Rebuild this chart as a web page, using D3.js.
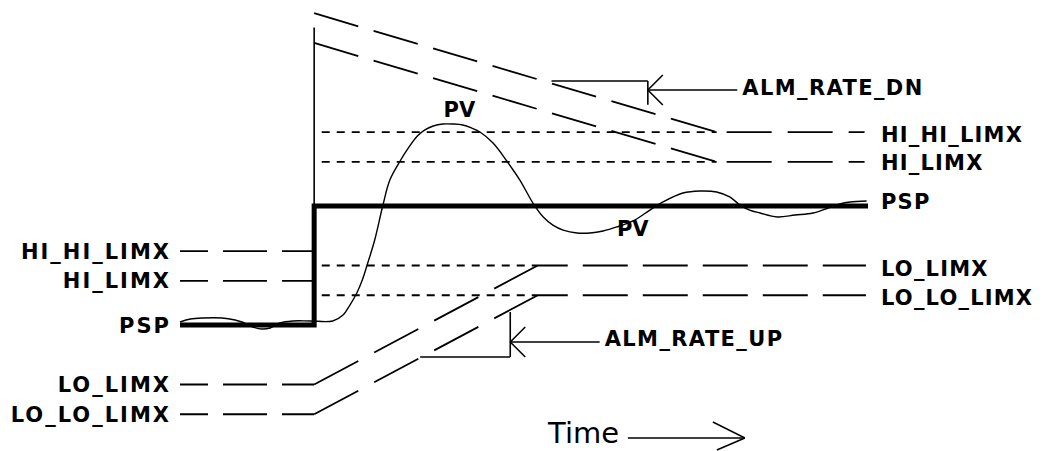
<!DOCTYPE html>
<html>
<head>
<meta charset="utf-8">
<script src="https://cdn.jsdelivr.net/npm/d3@7"></script>
<style>
  html, body { margin: 0; padding: 0; background: #fff; }
  svg { display: block; }
  text { font-family: "DejaVu Sans", Verdana, sans-serif; fill: #000; }
</style>
</head>
<body>
<svg id="chart" width="1054" height="451"></svg>
<script>
// ---------- data ----------
const pvTime  = [0, 1.5, 3.3, 6.1, 8, 9, 10.6, 11.9, 13.1, 14.5, 16.4, 18.9, 22.2, 23.7, 24.7, 25.7, 26.5, 27.2, 28.3, 29.5,
                 30.5, 32, 33, 34.5, 35.6, 36.8, 38.2, 39.7, 41.1, 42.4, 43.6, 45.5, 47.5, 49.4, 51.3, 52.8, 54.2, 55.7, 57.7, 59.6,
                 61.5, 63.5, 66.1, 68.3, 70.2, 73.1, 75.6, 78, 79.9, 81.4, 82.8, 84.3, 86.8, 89.4, 92, 94.2, 95.9, 97.4, 99.8];
const pvValue = [2.5, 5, 5.9, 5.9, 4.2, 2.5, -1.7, -3.4, -2.5, 1.7, 3.4, 3.4, 3.4, 8.4, 16.8, 26.9, 37.8, 50.4, 71.4, 100.8,
                 121.8, 137.8, 147.1, 158.8, 163.9, 167.2, 168.9, 168.9, 168.1, 165.5, 162.2, 152.9, 137.8, 121.8, 102.5, 90.8, 84, 79.8, 77.3, 77.3,
                 79, 82.4, 88.2, 96.6, 103.4, 110.9, 112.6, 111.8, 107.6, 100.8, 96.6, 94.1, 90.8, 92.4, 94.1, 98.3, 101.7, 103.4, 104.2];

const pspBefore = 0;          // setpoint before the step
const pspAfter  = 100;        // setpoint after the step
const stepTime  = 19.5;
const endTime   = 100;
const markerTop = 250;        // top of thin vertical marker at the step

const limitNames   = ["HI_HI_LIMX", "HI_LIMX", "LO_LIMX", "LO_LO_LIMX"];
const limitOffsets = [62, 37, -50, -75];          // limit offsets from PSP
const rampStartVal = [262, 237, -50, -75];        // rate-limited limit value at the step
const rampEndTime  = [78, 78, 52, 52];            // where rate-limited limit reaches new value
const newLimitStart = 20.6;                        // start of the dotted new-limit lines

const rateLabels = ["ALM_RATE_DN", "ALM_RATE_UP"];
const pvLabels   = ["PV", "PV"];
const pvLabelPos = [[40.6, 180.7], [65.8, 80.7]];
const timeLabel  = "Time";

// ---------- layout ----------
const svg = d3.select("#chart");
const x = d3.scaleLinear().domain([0, 100]).range([180, 868]);
const y = d3.scaleLinear().domain([0, 100]).range([325, 206]);
const line = d3.line().x(d => x(d[0])).y(d => y(d[1]));

const g = svg.append("g");

function path(pts, opts) {
  const p = g.append("path")
    .attr("d", line(pts))
    .attr("fill", "none")
    .attr("stroke", "#000")
    .attr("stroke-width", opts.w || 1.6);
  if (opts.dash) p.attr("stroke-dasharray", opts.dash);
  if (opts.off != null) p.attr("stroke-dashoffset", opts.off);
  return p;
}

// old limits before the step (long dash)
limitOffsets.forEach(o => {
  path([[0, pspBefore + o], [stepTime, pspBefore + o]], {dash: "44,15", off: 16, w: 1.8});
});

// rate-limited ramps
[0, 1].forEach(i => {
  path([[stepTime, rampStartVal[i]], [rampEndTime[i], pspAfter + limitOffsets[i]]], {dash: "46,16", w: 1.8});
});
[2, 3].forEach(i => {
  path([[stepTime, rampStartVal[i]], [rampEndTime[i], pspAfter + limitOffsets[i]]], {dash: "50,18", w: 1.8});
});

// new limits: short dashes until ramp end, then long dashes to end
limitOffsets.forEach((o, i) => {
  const v = pspAfter + o;
  path([[newLimitStart, v], [rampEndTime[i], v]], {dash: "8,7", w: 1.8});
  if (i < 2) path([[rampEndTime[i], v], [99.5, v]], {dash: "45,16", off: 51, w: 1.8});
  else path([[rampEndTime[i], v], [99.7, v]], {dash: "45,15", off: 15, w: 1.8});
});

// thin vertical marker at the step
path([[stepTime, pspAfter], [stepTime, markerTop]], {w: 1.6});

// PSP thick step
g.append("path")
  .attr("d", line([[0, pspBefore], [stepTime, pspBefore], [stepTime, pspAfter], [endTime, pspAfter]]))
  .attr("fill", "none").attr("stroke", "#000").attr("stroke-width", 5)
  .attr("stroke-linejoin", "miter");

// PV curve
const pvData = pvTime.map((t, i) => [t, pvValue[i]]);
g.append("path")
  .attr("d", d3.line().x(d => x(d[0])).y(d => y(d[1])).curve(d3.curveCatmullRom.alpha(0.5))(pvData))
  .attr("fill", "none").attr("stroke", "#000").attr("stroke-width", 1.4);

// ---------- annotations ----------
function seg(x1, y1, x2, y2, w) {
  g.append("line").attr("x1", x1).attr("y1", y1).attr("x2", x2).attr("y2", y2)
    .attr("stroke", "#000").attr("stroke-width", w || 1.6);
}
function arrowLeft(tx, ty, len) {
  seg(tx, ty, tx + len, ty);
  seg(tx, ty, tx + 15, ty - 15);
  seg(tx, ty, tx + 15, ty + 15);
}

// ALM_RATE_DN bracket
seg(x(54), y(205), x(68), y(205));
seg(x(68), y(205), x(68), y(185));
arrowLeft(x(68), y(197.5), x(81) - x(68));
// ALM_RATE_UP bracket
seg(x(34.9), y(-26.9), x(48), y(-26.9));
seg(x(48), y(-26.9), x(48), y(10.9));
arrowLeft(x(48), y(-14.3), x(61) - x(48));

// Time arrow
const ty = 438;
seg(x(65.1), ty, x(82.1), ty, 1.6);
seg(x(82.1), ty, x(82.1) - 32, ty - 16, 1.4);
seg(x(82.1), ty, x(82.1) - 28, ty + 12, 1.4);

// ---------- text ----------
const lblStyle = sel => sel.attr("font-size", 21).attr("font-weight", "bold");

// left labels
const leftNames = [limitNames[0], limitNames[1], "PSP", limitNames[2], limitNames[3]];
const leftVals  = [pspBefore + limitOffsets[0], pspBefore + limitOffsets[1], pspBefore,
                   pspBefore + limitOffsets[2], pspBefore + limitOffsets[3]];
leftNames.forEach((n, i) => {
  g.append("text").text(n)
    .attr("x", x(0) - 11 + 2).attr("y", y(leftVals[i]) + 7.5)
    .attr("text-anchor", "end").attr("letter-spacing", 2)
    .call(lblStyle);
});

// right labels
const rightNames = [limitNames[0], limitNames[1], "PSP", limitNames[2], limitNames[3]];
const rightVals  = [pspAfter + limitOffsets[0], pspAfter + limitOffsets[1], pspAfter,
                    pspAfter + limitOffsets[2], pspAfter + limitOffsets[3]];
const rightDy    = [9.5, 8.5, 2.5, 10, 9.5];
rightNames.forEach((n, i) => {
  g.append("text").text(n)
    .attr("x", x(endTime) + 13).attr("y", y(rightVals[i]) + rightDy[i])
    .attr("letter-spacing", 1.2)
    .call(lblStyle);
});

// rate labels
g.append("text").text(rateLabels[0])
  .attr("x", x(81) + 5).attr("y", y(197.5) + 5)
  .attr("letter-spacing", 1.4).call(lblStyle);
g.append("text").text(rateLabels[1])
  .attr("x", x(61) + 5).attr("y", y(-14.3) + 4)
  .attr("letter-spacing", 1.4).call(lblStyle);

// PV labels
pvLabels.forEach((n, i) => {
  g.append("text").text(n)
    .attr("x", x(pvLabelPos[i][0])).attr("y", y(pvLabelPos[i][1]) + 7.5)
    .attr("text-anchor", "middle").call(lblStyle);
});

// Time label
g.append("text").text(timeLabel)
  .attr("x", x(53.5)).attr("y", 443)
  .attr("font-family", "'Liberation Sans', Arial, sans-serif")
  .attr("font-size", 29);
</script>
</body>
</html>
